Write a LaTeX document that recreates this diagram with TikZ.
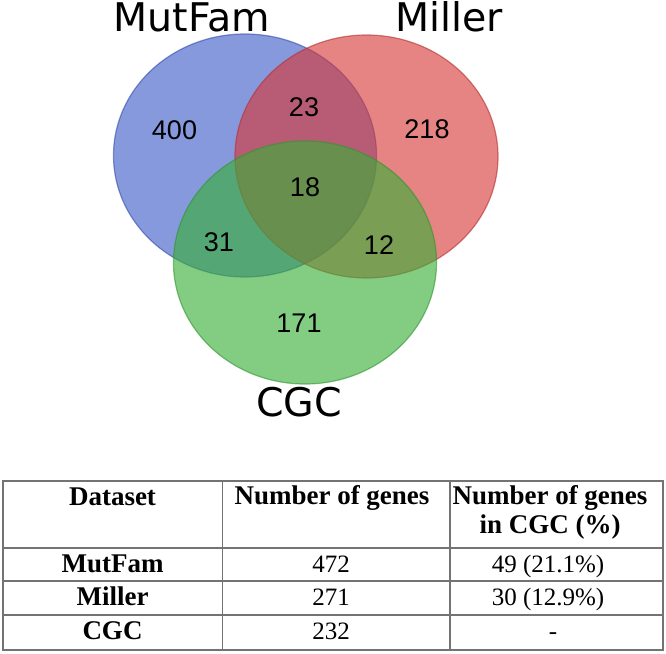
\documentclass[tikz,border=0pt]{standalone}
\usepackage{fontspec}
\usepackage{tikz}
\usetikzlibrary{shapes.geometric}
\setmainfont{Liberation Serif}
\newfontfamily\vennfont{DejaVu Sans}
\newfontfamily\countfont{Liberation Sans}
\definecolor{mutblue}{RGB}{60,90,200}
\definecolor{millred}{RGB}{215,55,55}
\definecolor{cgcgreen}{RGB}{55,175,55}

\begin{document}
\begin{tikzpicture}[
	x=1pt, y=-1pt,
	vennset/.style={ellipse, draw=#1!85!black, fill=#1, fill opacity=0.62, draw opacity=0.6, line width=1.2pt, minimum width=263pt, minimum height=243pt, inner sep=0pt},
	setname/.style={font=\vennfont\fontsize{39.5}{42}\selectfont, inner sep=0pt},
	count/.style={font=\countfont\fontsize{27}{30}\selectfont, inner sep=0pt},
	headcell/.style={font=\bfseries\fontsize{27}{29.5}\selectfont, anchor=base, align=center, inner sep=0pt},
	bodycell/.style={font=\fontsize{25}{28}\selectfont, anchor=base, inner sep=0pt},
	gridline/.style={draw=black!55, line width=1.3pt}
]
\useasboundingbox (0,0) rectangle (666,653);

\node[vennset=mutblue] (mutfam) at (245,155.5) {};
\node[vennset=millred] (miller) at (366.5,156.5) {};
\node[vennset=cgcgreen] (cgc) at (305,262.5) {};

\node[setname] (mutfamname) at (192,17) {MutFam};
\node[setname] (millername) at (449,17) {Miller};
\node[setname] (cgcname) at (299,402) {CGC};

\node[count] (onlymut) at (174.5,130) {400};
\node[count] (mutmill) at (304,107) {23};
\node[count] (onlymill) at (427,129) {218};
\node[count] (allthree) at (305,187) {18};
\node[count] (mutcgc) at (219,242) {31};
\node[count] (millcgc) at (379,245) {12};
\node[count] (onlycgc) at (299,323) {171};

\draw[gridline] (3,481) rectangle (663,650);
\draw[gridline] (222.7,481) -- (222.7,650);
\draw[gridline] (450,481) -- (450,650);
\draw[gridline] (3,548) -- (663,548);
\draw[gridline] (3,581) -- (663,581);
\draw[gridline] (3,615) -- (663,615);

\node[headcell] (hdata) at (112.5,505) {Dataset};
\node[headcell] (hgenes) at (332,504) {Number of genes};
\node[headcell] (hcgc) at (550,533.5) {Number of genes\\in CGC (\%)};

\node[headcell] (rmut) at (112.5,572) {MutFam};
\node[bodycell] (rmutn) at (331,572) {472};
\node[bodycell] (rmutc) at (548,572) {49 (21.1\%)};

\node[headcell] (rmill) at (112.5,605.5) {Miller};
\node[bodycell] (rmilln) at (331,605.5) {271};
\node[bodycell] (rmillc) at (548,605.5) {30 (12.9\%)};

\node[headcell] (rcgc) at (112.5,639.5) {CGC};
\node[bodycell] (rcgcn) at (331,639.5) {232};
\node[bodycell] (rcgcc) at (553,639.5) {-};
\end{tikzpicture}
\end{document}
